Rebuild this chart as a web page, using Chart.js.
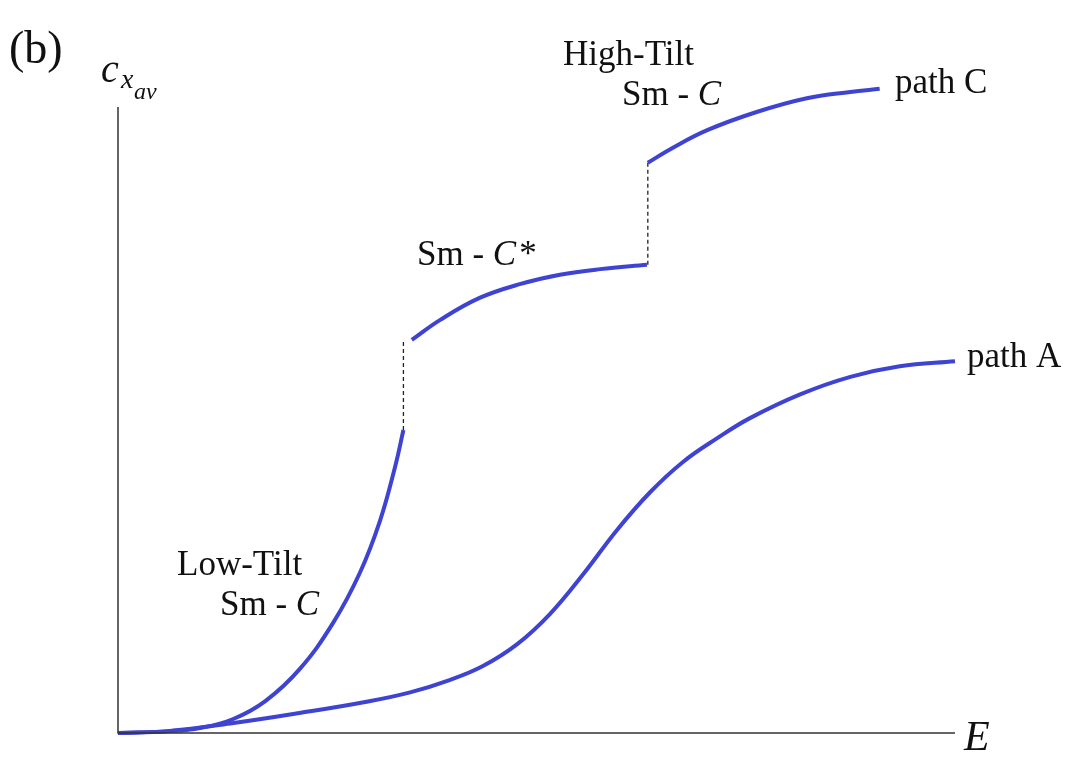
<!DOCTYPE html>
<html>
<head>
<meta charset="utf-8">
<script src="https://cdn.jsdelivr.net/npm/chart.js@4/dist/chart.umd.min.js"></script>
<style>
  html, body { margin: 0; padding: 0; background: #fff; }
  #wrap { width: 1075px; height: 773px; position: relative; }
</style>
</head>
<body>
<div id="wrap"><canvas id="myChart"></canvas></div>
<script>
// values (E in arbitrary units 0..10, c in 0..1)
const lowTiltE = [0, 0.62, 0.98, 1.37, 1.76, 2.17, 2.57, 2.89, 3.13, 3.31, 3.41];
const lowTiltC = [0, 0.003, 0.008, 0.022, 0.051, 0.102, 0.176, 0.256, 0.339, 0.425, 0.484];

const smCStarE = [3.51, 3.85, 4.32, 4.80, 5.28, 5.76, 6.32];
const smCStarC = [0.628, 0.660, 0.695, 0.717, 0.732, 0.741, 0.748];

const highTiltE = [6.33, 6.63, 7.04, 7.63, 8.23, 8.75, 9.10];
const highTiltC = [0.911, 0.935, 0.963, 0.992, 1.014, 1.024, 1.029];

const pathAE = [0, 0.59, 1.38, 2.17, 2.97, 3.49, 3.97, 4.36, 4.77, 5.16, 5.56, 5.96, 6.36, 6.75, 7.16, 7.55, 8.15, 8.75, 9.34, 10.0];
const pathAC = [0, 0.003, 0.016, 0.032, 0.050, 0.065, 0.085, 0.107, 0.142, 0.190, 0.254, 0.324, 0.385, 0.433, 0.471, 0.503, 0.541, 0.569, 0.586, 0.594];

// jumps between the branches of path C
const jump1E = [3.41, 3.41];
const jump1C = [0.484, 0.625];
const jump2E = [6.33, 6.33];
const jump2C = [0.748, 0.912];

const blue = "#3f43d2";
const serif = "'Liberation Serif', 'Times New Roman', serif";

function pts(xs, ys) {
  return xs.map((x, i) => ({ x: x, y: ys[i] }));
}

function curve(xs, ys) {
  return {
    data: pts(xs, ys),
    borderColor: blue,
    borderWidth: 4,
    pointRadius: 0,
    tension: 0.4,
    clip: false,
  };
}

function dashed(xs, ys) {
  return {
    data: pts(xs, ys),
    borderColor: "#222",
    borderWidth: 1.3,
    borderDash: [4, 3],
    pointRadius: 0,
    clip: false,
  };
}

// axes and text annotations
const decor = {
  id: "decor",
  afterDraw(chart) {
    const { ctx, chartArea: a } = chart;
    ctx.save();
    ctx.strokeStyle = "#333";
    ctx.lineWidth = 1.5;
    ctx.beginPath();
    ctx.moveTo(a.left, a.top);
    ctx.lineTo(a.left, a.bottom);
    ctx.lineTo(a.right, a.bottom);
    ctx.stroke();

    ctx.fillStyle = "#111";
    ctx.textBaseline = "alphabetic";
    const txt = (s, x, y, size, italic) => {
      ctx.font = (italic ? "italic " : "") + size + "px " + serif;
      ctx.fillText(s, x, y);
      return x + ctx.measureText(s).width;
    };
    const smc = (x, y, star) => {
      let nx = txt("Sm - ", x, y, 35, false);
      nx = txt("C", nx, y, 35, true);
      if (star) txt("*", nx + 3, y, 35, false);
    };

    txt("(b)", 9, 63, 46, false);
    txt("c", 101, 82, 40, true);
    txt("x", 121, 88, 28, true);
    txt("av", 134, 99, 24, true);
    txt("E", 964, 750, 42, true);

    txt("High-Tilt", 563, 65, 35, false);
    smc(622, 105, false);
    txt("path C", 895, 93, 35, false);
    smc(417, 265, true);
    txt("path A", 967, 367, 35, false);
    txt("Low-Tilt", 177, 575, 35, false);
    smc(220, 615, false);
    ctx.restore();
  },
};

const ctx = document.getElementById("myChart");

new Chart(ctx, {
  type: "line",
  data: {
    datasets: [
      curve(lowTiltE, lowTiltC),
      curve(smCStarE, smCStarC),
      curve(highTiltE, highTiltC),
      curve(pathAE, pathAC),
      dashed(jump1E, jump1C),
      dashed(jump2E, jump2C),
    ],
  },
  options: {
    responsive: true,
    maintainAspectRatio: false,
    animation: false,
    layout: { padding: { left: 118, right: 120, top: 107, bottom: 40 } },
    plugins: { legend: { display: false }, tooltip: { enabled: false } },
    scales: {
      x: { type: "linear", min: 0, max: 10, display: false },
      y: { type: "linear", min: 0, max: 1, display: false },
    },
  },
  plugins: [decor],
});
</script>
</body>
</html>
